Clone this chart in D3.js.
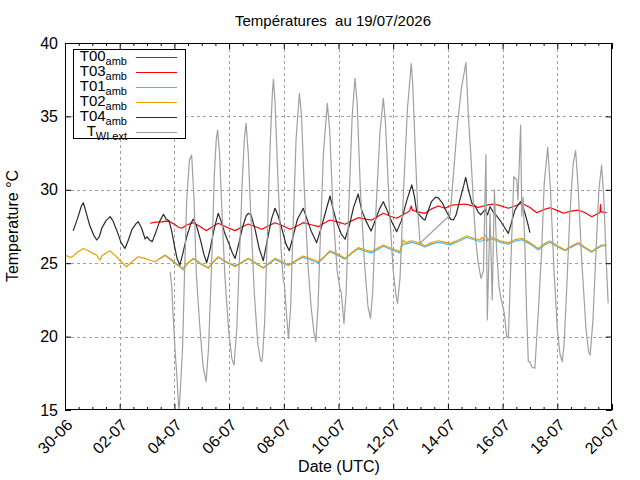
<!DOCTYPE html>
<html><head><meta charset="utf-8">
<script src="https://cdn.jsdelivr.net/npm/d3@7/dist/d3.min.js"></script>
<style>
body{margin:0;background:#fff}
svg{display:block}
text{font-family:"Liberation Sans",Arial,Helvetica,sans-serif;fill:#000}
</style>
</head><body>
<svg id="chart" width="640" height="480"></svg>
<script>
// ---------- data (day offset from 30-06 00:00 UTC, °C) ----------
const startDay = "2026-06-30T00:00:00Z";
const endDay = "2026-07-20T00:00:00Z";
const titleText = "Températures  au 19/07/2026";
const yTicks = [15, 20, 25, 30, 35, 40];
const xTickDays = [0, 2, 4, 6, 8, 10, 12, 14, 16, 18, 20];

const seriesNames = ["T00", "T03", "T01", "T02", "T04", "TWI ext"];

const t00 = [];

const t03 = [[3.11,27.72],[3.3,27.8],[3.55,27.82],[3.66,27.87],[3.8,27.85],[4.0,27.65],[4.15,27.45],[4.27,27.38],[4.45,27.6],[4.69,27.76],[4.9,27.55],[5.05,27.35],[5.18,27.22],[5.4,27.5],[5.6,27.72],[5.8,27.55],[6.0,27.38],[6.22,27.22],[6.45,27.45],[6.7,27.67],[6.95,27.5],[7.19,27.31],[7.45,27.55],[7.68,27.76],[7.95,27.55],[8.23,27.31],[8.45,27.5],[8.71,27.76],[9.0,27.62],[9.26,27.49],[9.5,27.75],[9.69,27.94],[10.0,27.8],[10.24,27.65],[10.5,27.9],[10.72,28.1],[11.0,28.0],[11.21,27.94],[11.45,28.2],[11.64,28.4],[11.9,28.2],[12.13,28.06],[12.4,28.35],[12.6,28.55],[12.66,28.9],[12.7,28.62],[12.9,28.5],[13.16,28.4],[13.4,28.7],[13.65,28.9],[13.89,28.74],[14.14,28.96],[14.4,29.0],[14.63,29.03],[14.9,28.9],[15.11,28.8],[15.4,28.95],[15.66,29.03],[15.95,28.9],[16.21,28.74],[16.45,28.9],[16.7,29.08],[17.0,28.8],[17.25,28.44],[17.5,28.65],[17.73,28.78],[18.0,28.6],[18.22,28.4],[18.5,28.55],[18.77,28.62],[19.0,28.45],[19.26,28.17],[19.45,28.35],[19.56,28.44],[19.58,29.0],[19.6,28.5],[19.8,28.44]];

const t01 = [[3.45,25.3],[3.66,25.52],[3.85,25.25],[4.05,24.95],[4.2,24.75],[4.3,24.65],[4.45,24.9],[4.69,25.3],[4.95,24.95],[5.24,24.7],[5.4,25.0],[5.6,25.4],[5.9,25.05],[6.22,24.85],[6.45,25.0],[6.7,25.3],[7.0,24.95],[7.25,24.7],[7.45,24.95],[7.68,25.25],[7.95,25.0],[8.17,24.85],[8.45,25.15],[8.71,25.4],[9.0,25.2],[9.26,25.0],[9.5,25.45],[9.69,25.78],[10.0,25.5],[10.24,25.28],[10.5,25.7],[10.72,25.98],[11.0,25.8],[11.21,25.7],[11.45,25.95],[11.64,26.15],[11.95,25.9],[12.25,25.7],[12.35,26.3],[12.45,26.3],[12.68,26.42],[13.0,26.25],[13.16,26.1],[13.4,26.3],[13.65,26.42],[13.85,26.35],[14.08,26.25],[14.4,26.5],[14.69,26.75],[14.95,26.6],[15.17,26.48],[15.4,26.6],[15.55,26.65],[15.7,26.6],[15.95,26.4],[16.21,26.3],[16.45,26.5],[16.7,26.6],[17.0,26.3],[17.31,25.9],[17.5,26.2],[17.73,26.43],[18.0,26.12],[18.28,25.85],[18.5,26.08],[18.77,26.32],[19.0,26.03],[19.26,25.75],[19.45,25.98],[19.62,26.18],[19.8,26.2]];

const t02 = [[0,25.56],[0.12,25.45],[0.24,25.4],[0.45,25.75],[0.67,26.0],[0.85,25.85],[1.05,25.62],[1.16,25.56],[1.22,25.35],[1.28,25.22],[1.35,25.5],[1.5,25.7],[1.65,25.83],[1.85,25.5],[2.05,25.1],[2.25,24.76],[2.45,25.1],[2.68,25.44],[2.8,25.38],[2.93,25.33],[3.1,25.2],[3.29,25.1],[3.45,25.3],[3.66,25.56],[3.85,25.3],[4.05,25.0],[4.2,24.83],[4.28,24.6],[4.33,24.54],[4.45,24.95],[4.69,25.33],[4.95,25.0],[5.24,24.65],[5.4,25.05],[5.6,25.44],[5.9,25.1],[6.22,24.76],[6.45,25.05],[6.7,25.33],[7.0,25.0],[7.25,24.65],[7.45,25.0],[7.68,25.33],[7.95,25.1],[8.17,24.88],[8.45,25.2],[8.71,25.49],[9.0,25.3],[9.26,25.1],[9.5,25.5],[9.69,25.85],[10.0,25.6],[10.24,25.33],[10.5,25.75],[10.72,26.06],[11.0,25.9],[11.21,25.79],[11.45,26.05],[11.64,26.24],[11.95,26.0],[12.25,25.79],[12.3,26.2],[12.37,26.58],[12.45,26.4],[12.55,26.45],[12.68,26.53],[13.0,26.35],[13.16,26.17],[13.4,26.4],[13.65,26.53],[13.85,26.45],[14.08,26.35],[14.4,26.6],[14.69,26.85],[14.95,26.7],[15.17,26.58],[15.25,26.75],[15.3,26.6],[15.4,26.95],[15.45,26.5],[15.55,26.8],[15.7,26.7],[15.95,26.5],[16.21,26.4],[16.45,26.6],[16.7,26.69],[17.0,26.4],[17.31,26.0],[17.5,26.3],[17.73,26.51],[18.0,26.2],[18.28,25.9],[18.5,26.15],[18.77,26.4],[19.0,26.1],[19.26,25.79],[19.45,26.05],[19.62,26.24],[19.8,26.24]];

const t04 = [[0.30,27.2],[0.45,28.0],[0.6,28.9],[0.67,29.12],[0.75,28.6],[0.9,27.6],[1.05,26.9],[1.16,26.58],[1.25,26.8],[1.35,27.4],[1.5,27.9],[1.65,28.17],[1.75,27.9],[1.9,27.2],[2.05,26.4],[2.19,26.0],[2.3,26.5],[2.45,27.3],[2.6,27.7],[2.68,27.83],[2.8,27.4],[2.93,26.65],[3.0,26.8],[3.08,26.6],[3.19,26.47],[3.3,27.0],[3.45,27.8],[3.6,28.33],[3.7,28.0],[3.8,27.9],[3.9,27.2],[4.0,26.2],[4.1,25.3],[4.2,24.88],[4.3,25.6],[4.45,26.8],[4.6,27.7],[4.69,28.0],[4.8,27.6],[4.95,26.6],[5.08,25.6],[5.18,25.03],[5.3,25.9],[5.45,27.3],[5.6,28.4],[5.7,27.9],[5.85,27.0],[6.0,26.3],[6.12,25.7],[6.22,25.33],[6.35,26.3],[6.5,27.5],[6.62,28.2],[6.7,28.4],[6.8,28.3],[6.95,27.3],[7.1,26.0],[7.25,25.17],[7.4,26.6],[7.55,28.0],[7.68,28.74],[7.8,28.2],[7.95,27.2],[8.08,26.3],[8.2,25.85],[8.35,26.9],[8.5,28.0],[8.71,28.74],[8.85,28.0],[9.0,27.2],[9.2,26.4],[9.35,27.3],[9.5,28.3],[9.69,29.58],[9.8,28.7],[9.95,27.7],[10.1,27.0],[10.24,26.63],[10.4,27.6],[10.55,28.8],[10.72,29.71],[10.85,28.6],[11.0,27.9],[11.19,27.19],[11.3,27.7],[11.5,28.7],[11.64,29.19],[11.8,28.5],[11.95,27.8],[12.13,27.15],[12.3,27.9],[12.5,29.3],[12.68,30.33],[12.78,29.5],[12.86,28.5],[13.0,28.2],[13.1,28.0],[13.16,27.94],[13.4,29.2],[13.55,29.5],[13.65,29.45],[13.8,29.1],[13.95,28.5],[14.1,28.0],[14.2,27.94],[14.3,28.3],[14.45,29.4],[14.58,30.3],[14.65,30.85],[14.75,30.0],[14.88,29.08],[15.0,28.9],[15.1,28.5],[15.2,28.3],[15.36,28.67],[15.45,28.3],[15.54,28.85],[15.65,28.5],[15.75,28.3],[15.9,27.94],[16.05,27.5],[16.21,27.03],[16.3,27.6],[16.45,28.62],[16.58,29.0],[16.66,29.19],[16.75,28.8],[16.82,28.4],[16.92,27.7],[17.0,27.08]];

const twiExt = [[3.84,24.42],[3.9,23.5],[3.95,21.6],[4.03,18.9],[4.1,17.04],[4.15,15.3],[4.17,15.0],[4.2,15.8],[4.25,17.5],[4.3,19.3],[4.37,24.3],[4.45,29.3],[4.55,32.03],[4.63,32.37],[4.72,29.3],[4.8,24.3],[4.93,20.67],[5.05,17.95],[5.16,16.93],[5.25,19.3],[5.37,25.44],[5.46,31.1],[5.53,33.4],[5.58,34.07],[5.65,32.5],[5.75,28],[5.85,24],[5.98,20.5],[6.1,18.5],[6.18,18.07],[6.28,20.5],[6.38,25.5],[6.48,30.5],[6.56,33.5],[6.62,34.53],[6.7,32.5],[6.8,28],[6.92,23],[7.05,19.5],[7.15,18.4],[7.19,18.29],[7.22,18.6],[7.3,21],[7.4,27],[7.5,33],[7.58,36.5],[7.62,37.53],[7.68,36],[7.78,31],[7.9,26],[7.98,23.8],[8.02,23.6],[8.08,22],[8.17,19.88],[8.25,22],[8.35,28],[8.45,33.5],[8.57,36.57],[8.65,35],[8.75,30],[8.88,25],[9.0,22],[9.1,20.3],[9.17,19.65],[9.25,22],[9.35,27.5],[9.45,32.5],[9.59,35.89],[9.68,34],[9.8,28.5],[9.95,24.5],[10.05,23.3],[10.1,23.0],[10.15,22],[10.2,20.9],[10.28,23],[10.38,29],[10.5,35],[10.6,37.6],[10.68,36],[10.8,30],[10.95,25],[11.08,22],[11.17,21.25],[11.25,23],[11.38,29],[11.52,34],[11.64,36.23],[11.72,34.5],[11.85,29],[12.0,24.5],[12.1,22.8],[12.16,22.27],[12.25,24],[12.38,30],[12.52,35.5],[12.66,38.6],[12.72,37],[12.8,33],[12.9,28.5],[12.98,26.36],[14.08,28.28],[14.2,31],[14.35,34.5],[14.5,37],[14.66,38.66],[14.75,35],[14.85,32.0],[14.95,28.5],[15.02,26.5],[15.11,25.0],[15.21,23.97],[15.3,24.5],[15.39,32.4],[15.44,21.13],[15.54,28.4],[15.62,22.5],[15.7,30.0],[15.78,25.9],[15.87,23.4],[15.93,22.7],[16.06,21.6],[16.15,20.0],[16.21,19.9],[16.31,25.44],[16.41,30.9],[16.52,30.67],[16.56,29.3],[16.66,34.4],[16.7,28.2],[16.75,29.5],[16.82,25.9],[16.88,21.4],[16.94,18.3],[17.0,18.3],[17.06,17.95],[17.18,17.84],[17.3,21.5],[17.43,25.9],[17.52,30.4],[17.65,32.9],[17.75,30],[17.88,24.5],[18.0,20.5],[18.1,18.8],[18.18,18.29],[18.25,19.5],[18.35,23.5],[18.45,28],[18.58,31.8],[18.67,32.67],[18.75,30.5],[18.9,25],[19.05,20.5],[19.15,18.9],[19.2,18.75],[19.3,21],[19.42,26],[19.52,30],[19.62,31.69],[19.7,29.5],[19.78,25.5],[19.86,22.27]];

const seriesData = [t00, t03, t01, t02, t04, twiExt];
const seriesColors = ["#9400d3", "#ff0000", "#56b4e9", "#e69f00", "#2a2a2a", "#a0a0a0"];

// ---------- layout ----------
const svg = d3.select("#chart");
const L = 65, R = 612, T = 43, B = 410;
const t0 = new Date(startDay);
const dayToDate = d => new Date(t0.getTime() + d * 864e5);

const x = d3.scaleUtc().domain([t0, new Date(endDay)]).range([L, R]);
const y = d3.scaleLinear().domain([15, 40]).range([B, T]);

// grid
const grid = svg.append("g").attr("stroke", "#a0a0a0").attr("stroke-width", 1).attr("stroke-dasharray", "3,3");
xTickDays.slice(1, -1).forEach(d => {
  const xx = Math.round(x(dayToDate(d))) + 0.5;
  grid.append("line").attr("x1", xx).attr("x2", xx).attr("y1", T).attr("y2", B);
});
yTicks.slice(1, -1).forEach(v => {
  const yy = Math.round(y(v)) + 0.5;
  grid.append("line").attr("x1", L).attr("x2", R).attr("y1", yy).attr("y2", yy);
});

// data lines
svg.append("clipPath").attr("id", "clip").append("rect")
  .attr("x", L).attr("y", T).attr("width", R - L).attr("height", B - T);
const line = d3.line().x(d => x(dayToDate(d[0]))).y(d => y(d[1]));
const gLines = svg.append("g").attr("clip-path", "url(#clip)");
seriesData.forEach((s, i) => {
  if (!s.length) return;
  gLines.append("path").datum(s).attr("d", line)
    .attr("fill", "none").attr("stroke", seriesColors[i])
    .attr("stroke-width", 1.2).attr("stroke-linejoin", "round");
});

// axes
const xMajor = xTickDays.map(dayToDate);
const xMinor = d3.range(0, 20.01, 0.5).filter(d => d % 2 !== 0).map(dayToDate);
const fmt = d3.utcFormat("%d-%m");

const axB = svg.append("g").attr("transform", `translate(0,${B})`)
  .call(d3.axisBottom(x).tickValues(xMajor).tickFormat(fmt).tickSizeInner(-6).tickSizeOuter(0).tickPadding(0));
axB.selectAll("text")
  .attr("x", null).attr("y", null).attr("dy", "0.35em")
  .attr("text-anchor", "end")
  .attr("transform", "translate(4,12) rotate(-45)")
  .style("font-size", "16px");
svg.append("g").attr("transform", `translate(0,${B})`)
  .call(d3.axisBottom(x).tickValues(xMinor).tickFormat("").tickSizeInner(-3).tickSizeOuter(0));
svg.append("g").attr("transform", `translate(0,${T})`)
  .call(d3.axisTop(x).tickValues(xMajor).tickFormat("").tickSizeInner(-6).tickSizeOuter(0));
svg.append("g").attr("transform", `translate(0,${T})`)
  .call(d3.axisTop(x).tickValues(xMinor).tickFormat("").tickSizeInner(-3).tickSizeOuter(0));

const axL = svg.append("g").attr("transform", `translate(${L},0)`)
  .call(d3.axisLeft(y).tickValues(yTicks).tickFormat(d3.format("d")).tickSizeInner(-6).tickSizeOuter(0).tickPadding(7));
axL.selectAll("text").style("font-size", "16px");
svg.append("g").attr("transform", `translate(${R},0)`)
  .call(d3.axisRight(y).tickValues(yTicks).tickFormat("").tickSizeInner(-6).tickSizeOuter(0));

svg.selectAll(".domain").remove();
svg.selectAll(".tick line").attr("stroke", "#000");
svg.selectAll(".tick text").attr("font-family", null);

// frame
svg.append("rect").attr("x", L + 0.5).attr("y", T + 0.5).attr("width", R - L - 1).attr("height", B - T - 1)
  .attr("fill", "none").attr("stroke", "#000").attr("stroke-width", 1);

// titles
svg.append("text").attr("x", 333).attr("y", 26).attr("text-anchor", "middle")
  .style("font-size", "15px").style("white-space", "pre").text(titleText);
svg.append("text").attr("x", 339).attr("y", 472).attr("text-anchor", "middle")
  .style("font-size", "16px").text("Date (UTC)");
svg.append("text").attr("transform", "translate(18,226) rotate(-90)").attr("text-anchor", "middle")
  .style("font-size", "16px").text("Temperature °C");

// legend
const lg = svg.append("g");
lg.append("rect").attr("x", 73.5).attr("y", 49.5).attr("width", 112).attr("height", 89)
  .attr("fill", "#fff").attr("stroke", "#000").attr("stroke-width", 1);
const legendSubs = ["amb", "amb", "amb", "amb", "amb", "WI ext"];
seriesNames.forEach((name, i) => {
  const yy = 57.5 + i * 15;
  const main = name.startsWith("TWI") ? "T" : name;
  const t = lg.append("text").attr("x", 127).attr("y", yy + 3.5).attr("text-anchor", "end")
    .style("font-size", "15px").attr("fill", "#000");
  t.append("tspan").text(main);
  t.append("tspan").attr("dy", 3.5).style("font-size", "11px").text(legendSubs[i]);
  lg.append("line").attr("x1", 136).attr("x2", 177).attr("y1", yy).attr("y2", yy)
    .attr("stroke", seriesColors[i]).attr("stroke-width", 1.2);
});
</script>
</body></html>
